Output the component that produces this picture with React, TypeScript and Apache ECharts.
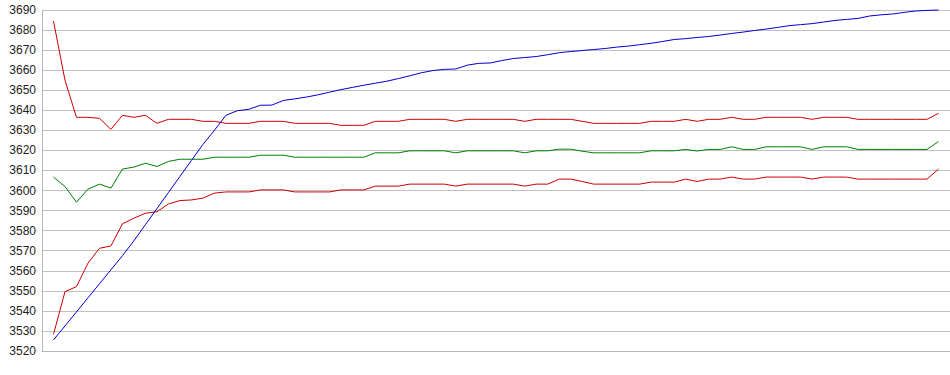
import React, { useEffect, useRef } from "react";
import * as echarts from "echarts";

// sample numbers 1..78 along the x axis (axis runs 0..79)
const samples: number[] = Array.from({ length: 78 }, (_, i) => i + 1);

const yTicks = { min: 3520, max: 3690, step: 10 };

const upperBand: number[] = [
  3684.5, 3655, 3636.5, 3636.5, 3636, 3630.5, 3637.5, 3636.5, 3637.5, 3633.5,
  3635.5, 3635.5, 3635.5, 3634.5, 3634.5, 3633.5, 3633.5, 3633.5, 3634.5, 3634.5,
  3634.5, 3633.5, 3633.5, 3633.5, 3633.5, 3632.5, 3632.5, 3632.5, 3634.5, 3634.5,
  3634.5, 3635.5, 3635.5, 3635.5, 3635.5, 3634.5, 3635.5, 3635.5, 3635.5, 3635.5,
  3635.5, 3634.5, 3635.5, 3635.5, 3635.5, 3635.5, 3634.5, 3633.5, 3633.5, 3633.5,
  3633.5, 3633.5, 3634.5, 3634.5, 3634.5, 3635.5, 3634.5, 3635.5, 3635.5, 3636.5,
  3635.5, 3635.5, 3636.5, 3636.5, 3636.5, 3636.5, 3635.5, 3636.5, 3636.5, 3636.5,
  3635.5, 3635.5, 3635.5, 3635.5, 3635.5, 3635.5, 3635.5, 3638.5,
];

const middleLine: number[] = [
  3606.7, 3602, 3594.2, 3600.7, 3603.2, 3601.2, 3610.7, 3611.7, 3613.6, 3612,
  3614.5, 3615.6, 3615.6, 3615.6, 3616.6, 3616.6, 3616.6, 3616.6, 3617.6, 3617.6,
  3617.6, 3616.6, 3616.6, 3616.6, 3616.6, 3616.6, 3616.6, 3616.6, 3618.8, 3618.8,
  3618.8, 3619.8, 3619.8, 3619.8, 3619.8, 3618.8, 3619.8, 3619.8, 3619.8, 3619.8,
  3619.8, 3618.8, 3619.8, 3619.8, 3620.6, 3620.6, 3619.6, 3618.8, 3618.8, 3618.8,
  3618.8, 3618.8, 3619.8, 3619.8, 3619.8, 3620.5, 3619.7, 3620.5, 3620.5, 3621.8,
  3620.5, 3620.5, 3621.8, 3621.8, 3621.8, 3621.8, 3620.5, 3621.8, 3621.8, 3621.8,
  3620.5, 3620.5, 3620.5, 3620.5, 3620.5, 3620.5, 3620.5, 3624.4,
];

const lowerBand: number[] = [
  3528.3, 3549.6, 3552.1, 3563.8, 3571.2, 3572.4, 3583.4, 3586.2, 3588.7, 3589.4,
  3593.3, 3595, 3595.3, 3596.2, 3598.7, 3599.3, 3599.3, 3599.3, 3600.3, 3600.3,
  3600.3, 3599.3, 3599.3, 3599.3, 3599.3, 3600.3, 3600.3, 3600.3, 3602.2, 3602.2,
  3602.2, 3603.2, 3603.2, 3603.2, 3603.2, 3602.2, 3603.2, 3603.2, 3603.2, 3603.2,
  3603.2, 3602.2, 3603.2, 3603.2, 3605.7, 3605.7, 3604.5, 3603.2, 3603.2, 3603.2,
  3603.2, 3603.2, 3604.2, 3604.2, 3604.2, 3605.7, 3604.5, 3605.7, 3605.7, 3606.7,
  3605.7, 3605.7, 3606.7, 3606.7, 3606.7, 3606.7, 3605.7, 3606.7, 3606.7, 3606.7,
  3605.7, 3605.7, 3605.7, 3605.7, 3605.7, 3605.7, 3605.7, 3610.7,
];

const mainLine: number[] = [
  3525.5, 3532.5, 3539.5, 3546.5, 3553.5, 3560.5, 3567.5, 3575, 3583, 3591,
  3599, 3607, 3615, 3623, 3630, 3637.5, 3639.8, 3640.5, 3642.5, 3642.6,
  3644.9, 3645.7, 3646.6, 3647.7, 3649, 3650.3, 3651.4, 3652.5, 3653.5, 3654.5,
  3655.8, 3657.2, 3658.7, 3659.8, 3660.4, 3660.6, 3662.5, 3663.4, 3663.6, 3664.8,
  3665.8, 3666.3, 3666.8, 3667.7, 3668.7, 3669.3, 3669.8, 3670.3, 3670.8, 3671.5,
  3672, 3672.7, 3673.4, 3674.3, 3675.3, 3675.7, 3676.3, 3676.8, 3677.5, 3678.3,
  3679, 3679.8, 3680.5, 3681.3, 3682.2, 3682.7, 3683.2, 3684, 3684.8, 3685.3,
  3685.8, 3687, 3687.6, 3688, 3688.8, 3689.5, 3689.8, 3690,
];

const pair = (vals: number[]) => samples.map((x, i) => [x, vals[i]]);

export default function App() {
  const ref = useRef<HTMLDivElement>(null);
  useEffect(() => {
    if (!ref.current) return;
    const chart = echarts.init(ref.current, undefined, { renderer: "svg" });
    const lineSeries = (name: string, vals: number[], color: string) => ({
      name,
      type: "line",
      data: pair(vals),
      symbol: "none",
      clip: false,
      lineStyle: { color, width: 1 },
      emphasis: { disabled: true },
    });
    chart.setOption({
      animation: false,
      backgroundColor: "#ffffff",
      grid: { left: 42, right: 0, top: 10, bottom: 24, containLabel: false },
      xAxis: {
        type: "value",
        min: 0,
        max: samples.length + 1,
        axisLine: { show: true, lineStyle: { color: "#b8b8b8", width: 1 } },
        axisTick: { show: false },
        axisLabel: { show: false },
        splitLine: { show: false },
      },
      yAxis: {
        type: "value",
        min: yTicks.min,
        max: yTicks.max,
        interval: yTicks.step,
        axisLine: { show: true, lineStyle: { color: "#b8b8b8", width: 1 } },
        axisTick: { show: false },
        axisLabel: {
          margin: 6,
          fontSize: 12,
          color: "#222222",
          fontFamily: "'Liberation Sans', Arial, sans-serif",
          formatter: (v: number) => String(v),
        },
        splitLine: { show: true, lineStyle: { color: "#c0c0c0", width: 1 } },
      },
      series: [
        lineSeries("upper", upperBand, "#cc0000"),
        lineSeries("lower", lowerBand, "#cc0000"),
        lineSeries("middle", middleLine, "#008000"),
        lineSeries("main", mainLine, "#0000cc"),
      ],
    });
    return () => chart.dispose();
  }, []);
  return (
    <div
      ref={ref}
      style={{ position: "absolute", left: 0, top: 0, width: 950, height: 375, background: "#fff" }}
    />
  );
}
